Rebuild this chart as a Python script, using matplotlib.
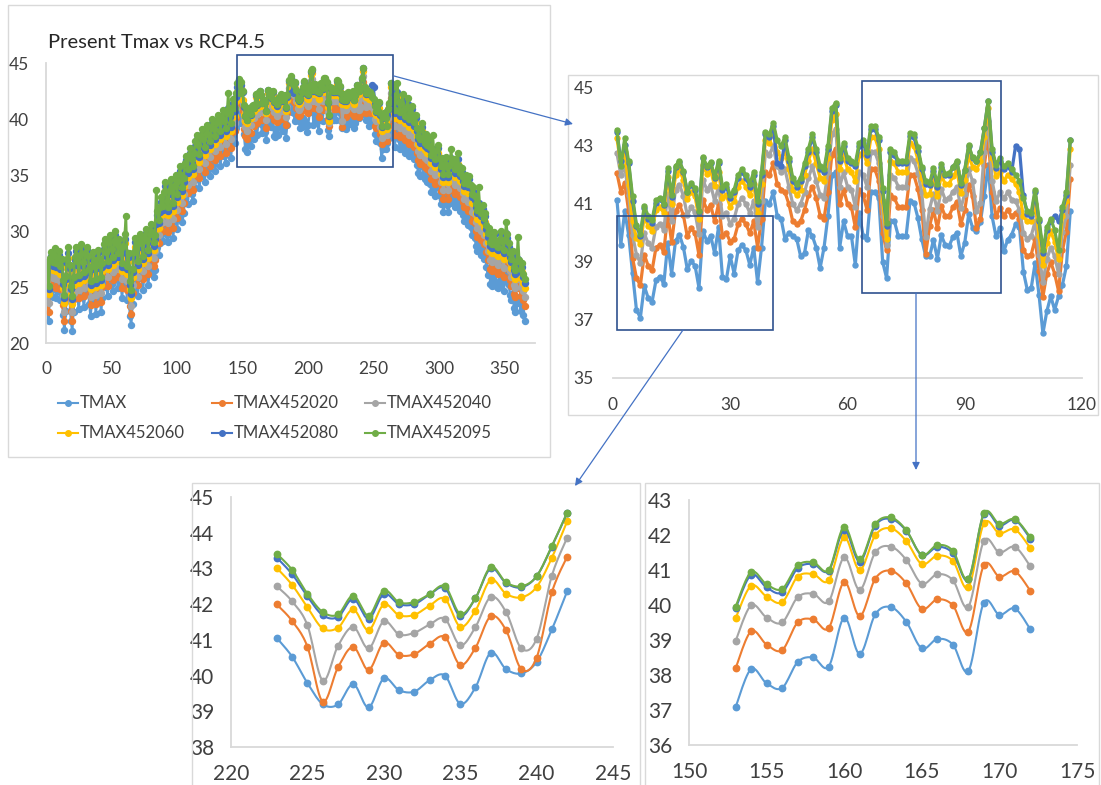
"""
Present Tmax vs RCP4.5: vista anual y tres acercamientos
"""
import numpy as np
import matplotlib.pyplot as plt
from matplotlib.patches import Rectangle, FancyArrowPatch
from matplotlib.lines import Line2D

plt.rcParams['font.family'] = ['Lato', 'DejaVu Sans']

# Temperatura maxima diaria (dia 1..365)
TMAX = [
	24.2, 22.0, 24.5, 25.0, 24.1, 24.8, 25.3, 24.0, 24.6, 25.1, 23.8, 24.4, 22.5, 21.2, 22.9, 24.3, 25.2, 23.9, 22.0, 21.1,
	22.8, 24.6, 25.4, 24.2, 23.0, 24.8, 25.6, 24.1, 23.2, 24.9, 25.5, 24.7, 23.5, 22.4, 23.8, 25.0, 24.3, 22.6, 23.9, 25.2,
	24.4, 22.8, 24.0, 25.6, 26.1, 25.0, 24.2, 25.8, 26.4, 25.3, 24.6, 26.0, 26.8, 25.7, 24.9, 26.2, 25.4, 24.0, 25.6, 26.5,
	25.2, 23.8, 24.9, 22.4, 21.6, 23.5, 25.0, 26.2, 25.4, 24.2, 25.8, 26.6, 25.9, 24.7, 26.3, 27.0, 26.1, 25.2, 26.6, 27.4,
	26.8, 25.9, 26.5, 27.8, 28.6, 27.9, 28.9, 29.8, 29.1, 30.3, 31.2, 29.6, 29.0, 30.5, 31.4, 30.8, 29.4, 30.9, 31.8, 30.2,
	31.4, 32.6, 31.9, 30.8, 31.6, 32.9, 33.5, 32.4, 33.6, 34.2, 33.3, 32.7, 33.9, 34.8, 35.4, 34.6, 33.8, 35.2, 35.9, 35.1,
	34.4, 35.6, 36.3, 35.5, 34.9, 36.1, 36.8, 36.0, 35.4, 36.4, 37.2, 36.6, 35.8, 36.9, 37.6, 36.7, 36.1, 37.3, 38.2, 37.4,
	36.5, 37.8, 38.6, 37.9, 39.2, 40.0,
	41.15, 39.6, 40.75, 39.94, 38.62, 37.35,
	37.08, 38.17, 37.76, 37.63, 38.37, 38.5, 38.24, 39.64, 38.6, 39.73, 39.94, 39.52, 38.76, 39.03, 38.87, 38.11, 40.07, 39.72, 39.9, 39.3,
	40.2, 38.5, 38.4, 39.2, 38.6, 39.4, 39.6, 39.4, 38.9, 39.5, 38.3, 39.5, 41.1, 41.0, 41.4, 40.6, 40.5, 39.8, 40.0, 39.9,
	39.8, 39.2, 39.3, 40.1, 39.9, 39.5, 38.8, 39.5, 40.6, 42.0, 42.1, 39.5, 40.4, 39.9, 39.9, 38.9, 40.7, 39.9, 39.8, 41.4,
	41.4, 41.2, 39.0, 38.45, 40.4, 40.4, 39.9, 39.9, 39.9, 41.1,
	41.05, 40.53, 39.79, 39.2, 39.19, 39.76, 39.11, 39.92, 39.59, 39.55, 39.87, 40.0, 39.21, 39.67, 40.64, 40.18, 40.06, 40.38, 41.29, 42.36,
	40.57, 39.88, 40.17, 39.37, 39.77, 39.94, 40.3, 40.2, 38.67, 38.04, 38.1, 38.96, 37.87, 36.54, 37.3, 37.82, 37.35, 37.82, 38.22, 38.85, 40.75,
	39.6, 38.4, 37.5, 38.8, 39.4, 38.2, 37.3, 38.1, 38.6, 37.6, 37.0, 37.8, 38.3, 36.7, 37.2, 37.9, 36.9,
	36.4, 37.1, 35.9, 35.2, 34.9, 35.8, 36.3, 35.1, 34.6, 35.4, 34.4, 35.0, 34.2, 33.5, 34.3, 33.8, 33.1, 33.9, 34.4, 33.2,
	32.4, 33.1, 31.7, 32.6, 33.2, 32.3, 31.7, 32.5, 33.4, 32.8, 33.0, 32.1, 32.6, 33.3, 32.4, 31.8, 32.2, 31.4, 30.9, 31.6,
	30.8, 30.5, 31.2, 30.4, 29.6, 30.2, 29.4, 28.7, 28.2, 29.1, 28.5, 27.9, 28.6, 27.5, 27.9, 26.8, 26.1, 26.6, 25.3, 25.1,
	25.8, 26.2, 25.4, 25.0, 24.9, 25.6, 26.3, 25.4, 24.6, 25.5, 26.4, 26.0, 25.2, 24.3, 23.8, 24.5, 23.1, 22.8, 23.6, 24.1,
	23.7, 22.9, 23.4, 22.5, 22.0]

TMAX452020 = [
	25.1, 22.8, 25.4, 26.0, 25.0, 25.9, 26.2, 24.9, 25.7, 26.0, 24.8, 25.3, 23.4, 22.0, 23.8, 25.3, 26.1, 24.9, 22.9, 22.0,
	23.9, 25.5, 26.3, 25.2, 24.0, 25.7, 26.6, 25.0, 24.2, 25.8, 26.4, 25.7, 24.4, 23.4, 24.9, 25.9, 25.3, 23.5, 24.9, 26.1,
	25.4, 23.7, 25.0, 26.6, 27.0, 26.0, 25.1, 26.8, 27.3, 26.3, 25.6, 26.9, 27.8, 26.6, 25.9, 27.1, 26.4, 24.9, 26.6, 27.4,
	26.2, 24.7, 25.9, 23.3, 22.6, 24.5, 25.9, 27.2, 26.3, 25.2, 26.7, 27.6, 26.8, 25.7, 27.2, 28.0, 27.0, 26.2, 27.5, 28.4,
	27.7, 26.9, 27.4, 28.9, 29.5, 28.9, 29.8, 30.8, 30.0, 31.3, 32.1, 30.6, 29.9, 31.5, 32.3, 31.8, 30.3, 31.9, 32.7, 31.2,
	32.3, 33.6, 32.8, 31.8, 32.5, 33.9, 34.4, 33.4, 34.5, 35.2, 34.2, 33.7, 34.8, 35.8, 36.3, 35.6, 34.7, 36.2, 36.8, 36.1,
	35.3, 36.6, 37.2, 36.5, 35.8, 37.1, 37.7, 37.0, 36.3, 37.4, 38.1, 37.6, 36.7, 37.9, 38.5, 37.7, 37.0, 38.3, 39.1, 38.4,
	37.4, 38.8, 39.5, 38.9, 40.1, 41.0,
	42.07, 41.43, 41.72, 40.75, 39.14, 38.45,
	38.19, 39.25, 38.87, 38.71, 39.5, 39.59, 39.34, 40.66, 39.68, 40.75, 40.98, 40.62, 39.89, 40.16, 39.99, 39.24, 41.14, 40.81, 40.96, 40.4,
	41.0, 39.9, 40.0, 39.7, 39.8, 40.3, 40.5, 40.3, 40.0, 40.4, 39.5, 40.5, 42.1, 42.0, 42.4, 41.7, 41.5, 41.4, 41.0, 40.4,
	40.3, 40.4, 40.8, 41.3, 41.6, 41.2, 40.6, 40.5, 41.4, 42.7, 42.9, 41.0, 41.5, 41.0, 40.9, 40.2, 41.5, 41.3, 40.8, 42.2,
	42.2, 41.8, 40.0, 39.4, 41.3, 41.2, 40.9, 40.9, 40.9, 42.0,
	41.99, 41.53, 40.81, 39.27, 40.23, 40.8, 40.16, 40.92, 40.58, 40.6, 40.89, 41.08, 40.3, 40.78, 41.66, 41.27, 40.18, 40.5, 42.33, 43.33,
	41.4, 40.57, 40.86, 40.6, 40.8, 40.57, 40.7, 40.5, 39.4, 39.2, 39.25, 39.8, 38.7, 37.8, 38.6, 39.0, 38.6, 38.0, 39.4, 40.05, 41.85,
	40.7, 39.5, 38.6, 39.9, 40.5, 39.3, 38.4, 39.2, 39.7, 38.7, 38.1, 38.9, 39.4, 37.8, 38.3, 39.0, 38.0,
	37.5, 38.2, 37.0, 36.3, 36.0, 36.9, 37.4, 36.2, 35.7, 36.5, 35.5, 36.1, 35.3, 34.6, 35.4, 34.9, 34.2, 35.0, 35.5, 34.3,
	33.6, 34.3, 32.9, 33.8, 34.4, 33.5, 32.9, 33.7, 34.6, 34.0, 34.2, 33.3, 33.8, 34.5, 33.6, 33.0, 33.4, 32.6, 32.1, 32.8,
	32.1, 31.8, 32.5, 31.7, 30.9, 31.5, 30.7, 30.0, 29.5, 30.4, 29.8, 29.2, 29.9, 28.8, 29.2, 28.1, 27.4, 27.9, 26.6, 26.4,
	27.1, 27.5, 26.7, 26.3, 26.2, 26.9, 27.6, 26.7, 25.9, 26.8, 27.7, 27.3, 26.5, 25.6, 25.1, 25.8, 24.4, 24.1, 24.9, 25.4,
	25.0, 24.2, 24.7, 23.8, 23.3]

TMAX452040 = [
	25.8, 23.6, 26.1, 26.7, 25.8, 26.5, 27.0, 25.7, 26.3, 26.8, 25.5, 26.1, 24.2, 22.8, 24.6, 26.0, 26.9, 25.6, 23.7, 22.8,
	24.5, 26.3, 27.1, 25.9, 24.7, 26.5, 27.3, 25.8, 24.9, 26.6, 27.2, 26.4, 25.2, 24.1, 25.5, 26.7, 26.0, 24.3, 25.6, 26.9,
	26.1, 24.5, 25.7, 27.3, 27.8, 26.7, 25.9, 27.5, 28.1, 27.0, 26.3, 27.7, 28.5, 27.4, 26.6, 27.9, 27.1, 25.7, 27.3, 28.2,
	26.9, 25.5, 26.6, 24.1, 23.3, 25.2, 26.7, 27.9, 27.1, 25.9, 27.5, 28.3, 27.6, 26.4, 28.0, 28.7, 27.8, 26.9, 28.3, 29.1,
	28.5, 27.6, 28.2, 29.5, 30.3, 29.6, 30.6, 31.5, 30.8, 32.0, 32.9, 31.3, 30.7, 32.2, 33.1, 32.5, 31.1, 32.6, 33.5, 31.9,
	33.1, 34.3, 33.6, 32.5, 33.3, 34.6, 35.2, 34.1, 35.3, 35.9, 35.0, 34.4, 35.6, 36.5, 37.1, 36.3, 35.5, 36.9, 37.6, 36.8,
	36.1, 37.3, 38.0, 37.2, 36.6, 37.8, 38.5, 37.7, 37.1, 38.1, 38.9, 38.3, 37.5, 38.6, 39.3, 38.4, 37.8, 39.0, 39.9, 39.1,
	38.2, 39.5, 40.3, 39.6, 40.9, 41.7,
	42.76, 42.0, 42.3, 41.32, 39.94, 39.25,
	38.97, 39.99, 39.64, 39.5, 40.22, 40.32, 40.1, 41.36, 40.43, 41.5, 41.67, 41.29, 40.61, 40.88, 40.71, 39.95, 41.83, 41.5, 41.66, 41.1,
	41.6, 40.6, 40.7, 40.3, 40.5, 41.0, 41.2, 41.0, 40.7, 41.1, 40.2, 41.1, 42.8, 42.7, 43.0, 42.3, 42.1, 42.2, 41.6, 41.0,
	40.8, 41.0, 41.4, 41.9, 42.3, 41.8, 41.3, 41.2, 42.1, 43.4, 43.6, 41.6, 42.1, 41.6, 41.5, 40.9, 42.1, 42.0, 41.6, 42.8,
	42.8, 42.4, 40.6, 39.6, 42.0, 41.9, 41.6, 41.6, 41.6, 42.6,
	42.5, 42.08, 41.41, 39.86, 40.83, 41.36, 40.76, 41.52, 41.15, 41.2, 41.43, 41.59, 40.85, 41.36, 42.2, 41.78, 40.76, 41.03, 42.8, 43.86,
	41.8, 41.1, 41.4, 41.2, 41.4, 41.15, 41.1, 40.8, 40.0, 39.8, 39.9, 40.4, 39.25, 38.3, 39.1, 39.5, 39.2, 38.6, 40.05, 40.6, 42.35,
	41.5, 40.3, 39.4, 40.7, 41.3, 40.1, 39.2, 40.0, 40.5, 39.5, 38.9, 39.7, 40.2, 38.6, 39.1, 39.8, 38.8,
	38.3, 39.0, 37.8, 37.1, 36.8, 37.7, 38.2, 37.0, 36.5, 37.3, 36.3, 36.9, 36.1, 35.4, 36.2, 35.7, 35.0, 35.8, 36.3, 35.1,
	34.4, 35.1, 33.7, 34.6, 35.2, 34.3, 33.7, 34.5, 35.4, 34.8, 35.0, 34.1, 34.6, 35.3, 34.4, 33.8, 34.2, 33.4, 32.9, 33.6,
	32.9, 32.6, 33.3, 32.5, 31.7, 32.3, 31.5, 30.8, 30.3, 31.2, 30.6, 30.0, 30.7, 29.6, 30.0, 28.9, 28.2, 28.7, 27.4, 27.2,
	27.9, 28.3, 27.5, 27.1, 27.0, 27.7, 28.4, 27.5, 26.7, 27.6, 28.5, 28.1, 27.3, 26.4, 25.9, 26.6, 25.2, 24.9, 25.7, 26.2,
	25.8, 25.0, 25.5, 24.6, 24.1]

TMAX452060 = [
	26.6, 24.4, 26.9, 27.4, 26.5, 27.2, 27.7, 26.4, 27.0, 27.5, 26.2, 26.8, 24.9, 23.6, 25.3, 26.7, 27.6, 26.3, 24.4, 23.5,
	25.2, 27.0, 27.8, 26.6, 25.4, 27.2, 28.0, 26.5, 25.6, 27.3, 27.9, 27.1, 25.9, 24.8, 26.2, 27.4, 26.7, 25.0, 26.3, 27.6,
	26.8, 25.2, 26.4, 28.0, 28.5, 27.4, 26.6, 28.2, 28.8, 27.7, 27.0, 28.4, 29.2, 28.1, 27.3, 28.6, 27.8, 26.4, 28.0, 28.9,
	27.6, 26.2, 27.3, 24.8, 24.0, 25.9, 27.4, 28.6, 27.8, 26.6, 28.2, 29.0, 28.3, 27.1, 28.7, 29.4, 28.5, 27.6, 29.0, 29.8,
	29.2, 28.3, 28.9, 30.2, 31.0, 30.3, 31.3, 32.2, 31.5, 32.7, 33.6, 32.0, 31.4, 32.9, 33.8, 33.2, 31.8, 33.3, 34.2, 32.6,
	33.8, 35.0, 34.3, 33.2, 34.0, 35.3, 35.9, 34.8, 36.0, 36.6, 35.7, 35.1, 36.3, 37.2, 37.8, 37.0, 36.2, 37.6, 38.3, 37.5,
	36.8, 38.0, 38.7, 37.9, 37.3, 38.5, 39.2, 38.4, 37.8, 38.8, 39.6, 39.0, 38.2, 39.3, 40.0, 39.1, 38.5, 39.7, 40.6, 39.8,
	38.9, 40.2, 41.0, 40.3, 41.6, 42.4,
	43.27, 42.35, 42.8, 41.66, 40.4, 39.83,
	39.62, 40.55, 40.24, 40.08, 40.81, 40.88, 40.7, 41.93, 41.0, 41.99, 42.19, 41.83, 41.17, 41.41, 41.26, 40.5, 42.33, 42.05, 42.16, 41.62,
	42.1, 41.2, 41.3, 40.9, 41.1, 41.6, 41.8, 41.6, 41.3, 41.7, 40.7, 41.7, 43.2, 43.1, 43.5, 42.8, 42.6, 42.8, 42.2, 41.5,
	41.3, 41.5, 42.0, 42.5, 42.9, 42.4, 41.9, 41.8, 42.6, 43.9, 44.1, 42.2, 42.7, 42.2, 42.1, 41.8, 42.7, 42.8, 42.4, 43.3,
	43.3, 42.9, 41.1, 39.8, 42.5, 42.4, 42.1, 42.1, 42.1, 43.1,
	43.01, 42.54, 41.91, 41.32, 41.34, 41.85, 41.27, 41.99, 41.69, 41.7, 41.96, 42.15, 41.37, 41.82, 42.68, 42.29, 42.19, 42.48, 43.3, 44.32,
	42.6, 41.95, 42.1, 41.8, 42.0, 41.85, 41.7, 41.4, 40.57, 40.4, 40.4, 41.0, 39.9, 38.9, 39.65, 40.06, 39.7, 39.1, 40.57, 41.1, 42.9,
	42.2, 41.0, 40.1, 41.4, 42.0, 40.8, 39.9, 40.7, 41.2, 40.2, 39.6, 40.4, 40.9, 39.3, 39.8, 40.5, 39.5,
	39.0, 39.7, 38.5, 37.8, 37.5, 38.4, 38.9, 37.7, 37.2, 38.0, 37.0, 37.6, 36.8, 36.1, 36.9, 36.4, 35.7, 36.5, 37.0, 35.8,
	35.1, 35.8, 34.4, 35.3, 35.9, 35.0, 34.4, 35.2, 36.1, 35.5, 35.7, 34.8, 35.3, 36.0, 35.1, 34.5, 34.9, 34.1, 33.6, 34.3,
	33.7, 33.4, 34.1, 33.3, 32.5, 33.1, 32.3, 31.6, 31.1, 32.0, 31.4, 30.8, 31.5, 30.4, 30.8, 29.7, 29.0, 29.5, 28.2, 28.0,
	28.7, 29.1, 28.3, 27.9, 27.8, 28.5, 29.2, 28.3, 27.5, 28.4, 29.3, 28.9, 28.1, 27.2, 26.7, 27.4, 26.0, 25.7, 26.5, 27.0,
	26.6, 25.8, 26.3, 25.4, 24.9]

TMAX452080 = [
	27.0, 24.8, 27.3, 27.8, 26.9, 27.6, 28.1, 26.8, 27.4, 27.9, 26.6, 27.2, 25.3, 24.0, 25.7, 27.1, 28.0, 26.7, 24.8, 23.9,
	25.6, 27.4, 28.2, 27.0, 25.8, 27.6, 28.4, 26.9, 26.0, 27.7, 28.3, 27.5, 26.3, 25.2, 26.6, 27.8, 27.1, 25.4, 26.7, 28.0,
	27.2, 25.6, 26.8, 28.4, 28.9, 27.8, 27.0, 28.6, 29.2, 28.1, 27.4, 28.8, 29.6, 28.5, 27.7, 29.0, 28.2, 26.8, 28.4, 29.3,
	28.0, 26.6, 27.7, 25.2, 24.4, 26.3, 27.8, 29.0, 28.2, 27.0, 28.6, 29.4, 28.7, 27.5, 29.1, 29.8, 28.9, 28.0, 29.4, 30.2,
	29.6, 28.7, 29.3, 30.6, 31.4, 30.7, 31.7, 32.6, 31.9, 33.1, 34.0, 32.4, 31.8, 33.3, 34.2, 33.6, 32.2, 33.7, 34.6, 33.0,
	34.2, 35.4, 34.7, 33.6, 34.4, 35.7, 36.3, 35.2, 36.4, 37.0, 36.1, 35.5, 36.7, 37.6, 38.2, 37.4, 36.6, 38.0, 38.7, 37.9,
	37.2, 38.4, 39.1, 38.3, 37.7, 38.9, 39.6, 38.8, 38.2, 39.2, 40.0, 39.4, 38.6, 39.7, 40.4, 39.5, 38.9, 40.1, 41.0, 40.2,
	39.3, 40.6, 41.4, 40.7, 42.0, 42.9,
	43.5, 42.47, 43.05, 42.4, 41.1, 40.23,
	39.9, 40.86, 40.5, 40.36, 41.05, 41.17, 40.98, 42.14, 41.24, 42.27, 42.46, 42.12, 41.42, 41.66, 41.48, 40.73, 42.59, 42.27, 42.43, 41.89,
	42.4, 41.5, 41.6, 41.2, 41.4, 41.9, 42.1, 41.9, 41.6, 42.0, 41.0, 42.0, 43.4, 43.3, 43.7, 42.4, 42.3, 43.2, 42.5, 41.8,
	41.6, 41.8, 42.3, 42.8, 43.3, 42.8, 42.2, 42.1, 42.9, 44.2, 44.4, 42.5, 43.0, 42.5, 42.4, 42.3, 43.0, 43.1, 42.7, 43.6,
	43.6, 43.2, 41.45, 40.25, 42.8, 42.7, 42.4, 42.4, 42.4, 43.35,
	43.3, 42.84, 42.22, 41.69, 41.64, 42.15, 41.59, 42.28, 42.0, 42.0, 42.27, 42.45, 41.67, 42.17, 43.0, 42.59, 42.47, 42.78, 43.61, 44.56,
	42.8, 42.25, 42.5, 42.2, 42.3, 42.1, 43.0, 42.9, 41.3, 40.65, 40.6, 41.4, 40.4, 39.3, 40.1, 40.4, 40.6, 40.4, 40.8, 41.3, 43.2,
	42.6, 41.4, 40.5, 41.8, 42.4, 41.2, 40.3, 41.1, 41.6, 40.6, 40.0, 40.8, 41.3, 39.7, 40.2, 40.9, 39.9,
	39.4, 40.1, 38.9, 38.2, 37.9, 38.8, 39.3, 38.1, 37.6, 38.4, 37.4, 38.0, 37.2, 36.5, 37.3, 36.8, 36.1, 36.9, 37.4, 36.2,
	35.5, 36.2, 34.8, 35.7, 36.3, 35.4, 34.8, 35.6, 36.5, 35.9, 36.1, 35.2, 35.7, 36.4, 35.5, 34.9, 35.3, 34.5, 34.0, 34.7,
	34.2, 33.9, 34.6, 33.8, 33.0, 33.6, 32.8, 32.1, 31.6, 32.5, 31.9, 31.3, 32.0, 30.9, 31.3, 30.2, 29.5, 30.0, 28.7, 28.5,
	29.2, 29.6, 28.8, 28.4, 28.3, 29.0, 29.7, 28.8, 28.0, 28.9, 29.8, 29.4, 28.6, 27.7, 27.2, 27.9, 26.5, 26.2, 27.0, 27.5,
	27.1, 26.3, 26.8, 25.9, 25.4]

TMAX452095 = [
	27.2, 25.1, 27.6, 28.1, 27.2, 27.9, 28.5, 27.1, 27.7, 28.2, 26.9, 27.5, 25.6, 24.3, 26.0, 27.5, 28.6, 27.0, 25.1, 24.2,
	25.9, 27.7, 28.6, 27.3, 26.1, 27.9, 28.8, 27.2, 26.3, 28.0, 28.6, 27.8, 26.6, 25.5, 26.9, 28.1, 27.4, 25.7, 27.0, 28.3,
	27.5, 25.9, 27.1, 28.8, 29.3, 28.1, 27.3, 29.0, 29.6, 28.4, 27.7, 29.1, 30.0, 28.8, 28.0, 29.3, 28.5, 27.1, 28.7, 29.7,
	31.3, 26.9, 28.0, 25.5, 24.7, 26.6, 28.1, 29.4, 28.5, 27.3, 28.9, 29.7, 29.0, 27.8, 29.4, 30.2, 29.2, 28.3, 29.7, 30.6,
	29.9, 29.0, 29.6, 33.7, 31.8, 31.0, 32.1, 33.0, 32.2, 33.5, 34.4, 32.7, 32.1, 33.6, 34.6, 33.9, 32.5, 34.0, 35.0, 33.3,
	34.5, 35.8, 35.0, 33.9, 34.7, 36.1, 36.7, 35.5, 36.8, 37.4, 36.4, 35.8, 37.0, 38.0, 38.6, 37.7, 36.9, 38.4, 39.1, 38.2,
	37.5, 38.7, 39.5, 38.6, 38.0, 39.3, 40.0, 39.1, 38.5, 39.6, 40.4, 39.7, 38.9, 40.1, 40.8, 39.8, 39.2, 40.5, 42.3, 40.5,
	39.6, 41.0, 41.8, 41.0, 42.3, 43.2,
	43.56, 42.3, 43.27, 42.47, 41.26, 40.28,
	39.95, 40.94, 40.59, 40.46, 41.13, 41.22, 41.0, 42.23, 41.3, 42.31, 42.5, 42.14, 41.43, 41.71, 41.55, 40.75, 42.62, 42.32, 42.45, 41.93,
	42.5, 41.6, 41.7, 41.3, 41.5, 42.0, 42.2, 42.0, 41.7, 42.1, 41.1, 42.1, 43.5, 43.4, 43.8, 43.2, 43.0, 43.3, 42.6, 41.9,
	41.7, 41.9, 42.4, 42.9, 43.4, 42.9, 42.3, 42.2, 43.0, 44.3, 44.5, 42.6, 43.1, 42.6, 42.5, 42.4, 43.1, 43.2, 42.8, 43.7,
	43.7, 43.3, 41.55, 40.35, 42.9, 42.8, 42.5, 42.5, 42.5, 43.45,
	43.41, 42.96, 42.29, 41.78, 41.71, 42.24, 41.68, 42.38, 42.05, 42.06, 42.28, 42.5, 41.73, 42.17, 43.04, 42.61, 42.5, 42.78, 43.63, 44.56,
	42.9, 42.35, 42.6, 42.3, 42.4, 42.2, 42.0, 41.8, 41.2, 40.75, 40.7, 41.5, 40.5, 39.4, 40.2, 40.5, 40.1, 39.4, 40.9, 41.4, 43.2,
	42.9, 41.7, 40.8, 42.1, 43.2, 41.5, 40.6, 41.4, 42.2, 40.9, 40.3, 41.1, 41.9, 40.0, 40.5, 41.2, 40.2,
	39.7, 40.4, 39.2, 38.5, 38.2, 39.1, 39.6, 38.4, 37.9, 38.7, 37.7, 38.3, 37.5, 36.8, 38.6, 37.1, 36.4, 37.2, 37.7, 36.5,
	35.8, 36.5, 35.1, 36.0, 36.6, 35.7, 35.1, 35.9, 37.3, 36.2, 36.4, 35.5, 36.0, 37.0, 35.8, 35.2, 35.6, 34.8, 34.3, 35.0,
	34.5, 34.2, 34.9, 34.1, 33.3, 33.9, 33.1, 32.4, 31.9, 33.9, 32.2, 31.6, 32.3, 31.2, 31.6, 30.5, 29.8, 30.3, 29.0, 28.8,
	29.5, 29.9, 29.1, 28.7, 28.6, 29.3, 30.0, 29.1, 28.3, 29.2, 30.8, 29.7, 28.9, 28.0, 27.5, 28.2, 26.8, 26.5, 27.3, 29.5,
	27.4, 26.6, 27.1, 26.2, 25.7]

Names = ["TMAX", "TMAX452020", "TMAX452040", "TMAX452060", "TMAX452080", "TMAX452095"]
Colors = ["#5B9BD5", "#ED7D31", "#A5A5A5", "#FFC000", "#4472C4", "#70AD47"]
Series = [np.array(s) for s in (TMAX, TMAX452020, TMAX452040, TMAX452060, TMAX452080, TMAX452095)]

days = np.arange(1, len(TMAX) + 1)

# ventanas de acercamiento (dias)
ZOOM0, ZOOM1 = 146, 263
BL = (223, 242)
BR = (153, 172)

W, H = 1101, 785
fig = plt.figure(figsize=(W / 100, H / 100), dpi=100)

Azul = "#2F528F"
Gris = "#D9D9D9"


def Ejes(x0, y0, x1, y1):
	return fig.add_axes([x0 / W, 1 - y1 / H, (x1 - x0) / W, (y1 - y0) / H])


def Estilo(ax, size, padx, pady, left=True):
	for s in ["top", "right"]:
		ax.spines[s].set_visible(False)
	ax.spines["left"].set_visible(left)
	for s in ["left", "bottom"]:
		ax.spines[s].set_color(Gris)
		ax.spines[s].set_linewidth(1.3)
	ax.tick_params(length=0, labelsize=size, colors="#404040")
	ax.tick_params(axis="x", pad=padx)
	ax.tick_params(axis="y", pad=pady)
	ax.patch.set_alpha(0)


def Suave(x, y, n=12):
	# curva suavizada tipo Excel (Catmull-Rom) entre los puntos
	P = np.column_stack([x, y]).astype(float)
	P = np.vstack([P[0], P, P[-1]])
	t = np.linspace(0, 1, n, endpoint=False)[:, None]
	out = []
	for k in range(1, len(P) - 2):
		p0, p1, p2, p3 = P[k - 1], P[k], P[k + 1], P[k + 2]
		out.append(0.5 * (2 * p1 + (-p0 + p2) * t + (2 * p0 - 5 * p1 + 4 * p2 - p3) * t ** 2
						  + (-p0 + 3 * p1 - 3 * p2 + p3) * t ** 3))
	out.append(P[-2][None, :])
	S = np.vstack(out)
	return S[:, 0], S[:, 1]


def Marco(x0, y0, x1, y1, color, lw):
	fig.add_artist(Rectangle((x0 / W, 1 - y1 / H), (x1 - x0) / W, (y1 - y0) / H,
							 transform=fig.transFigure, fill=False, ec=color, lw=lw))


def Flecha(a, b):
	fig.add_artist(FancyArrowPatch((a[0] / W, 1 - a[1] / H), (b[0] / W, 1 - b[1] / H),
								   transform=fig.transFigure, arrowstyle="-|>", mutation_scale=11,
								   color="#4472C4", lw=0.9, shrinkA=0, shrinkB=0))


# marcos de los paneles
Marco(8, 5, 550, 457, Gris, 1.0)
Marco(568, 75, 1098, 415, Gris, 1.0)
Marco(192, 483, 640, 800, Gris, 1.0)
Marco(645, 483, 1099, 800, Gris, 1.0)

# Panel anual
ax = Ejes(46, 63, 535, 343)
for y, c in zip(Series, Colors):
	ax.plot(days, y, "-o", color=c, lw=1.8, ms=4.3)
ax.set_xlim(0, 373) ; ax.set_ylim(20, 45)
ax.set_xticks(range(0, 351, 50)) ; ax.set_yticks(range(20, 46, 5))
Estilo(ax, 12.5, 13, 12)
fig.text(48 / W, 1 - 42 / H, "Present Tmax vs RCP4.5", fontsize=14.5, color="#262626", va="center")

# leyenda
for k, (n, c) in enumerate(zip(Names, Colors)):
	x = [58, 212, 365][k % 3] ; y = 1 - [403, 433][k // 3] / H
	fig.add_artist(Line2D([x / W, (x + 20) / W], [y, y], color=c, lw=1.5))
	fig.add_artist(Line2D([(x + 10) / W], [y], marker="o", color=c, ms=4))
	fig.text((x + 22) / W, y, n, fontsize=12, va="center", color="#404040")

# Acercamiento superior derecho
sel = (days > ZOOM0) & (days <= ZOOM1)
ax2 = Ejes(613, 88, 1082, 378)
for y, c in zip(Series, Colors):
	ax2.plot(days[sel] - ZOOM0, y[sel], "-o", color=c, lw=2.3, ms=3.6)
ax2.set_xlim(0, 120) ; ax2.set_ylim(35, 45)
ax2.set_xticks(range(0, 121, 30)) ; ax2.set_yticks(range(35, 46, 2))
Estilo(ax2, 12.5, 14, 14, left=False)

# Acercamientos inferiores
for caja, rango, xl, yl in [((231, 497, 613, 747), BL, (220, 245), (38, 45)),
							 ((689, 500, 1077, 745), BR, (150, 175), (36, 43))]:
	axb = Ejes(*caja)
	m = (days >= rango[0]) & (days <= rango[1])
	for y, c in zip(Series, Colors):
		sx, sy = Suave(days[m], y[m])
		axb.plot(sx, sy, color=c, lw=1.5)
		axb.plot(days[m], y[m], "o", color=c, ms=4.6)
	axb.set_xlim(*xl) ; axb.set_ylim(*yl)
	axb.set_xticks(range(xl[0], xl[1] + 1, 5)) ; axb.set_yticks(range(yl[0], yl[1] + 1))
	Estilo(axb, 15, 12, 12)

# recuadros y flechas
Marco(237, 55, 393, 167, Azul, 1.2)
Marco(617, 216, 773, 330, Azul, 1.2)
Marco(862, 81, 1001, 293, Azul, 1.2)
Flecha((394, 76), (573, 124))
Flecha((683, 330), (575, 486))
Flecha((916, 293), (916, 470))

fig.savefig("out.png", dpi=100)
